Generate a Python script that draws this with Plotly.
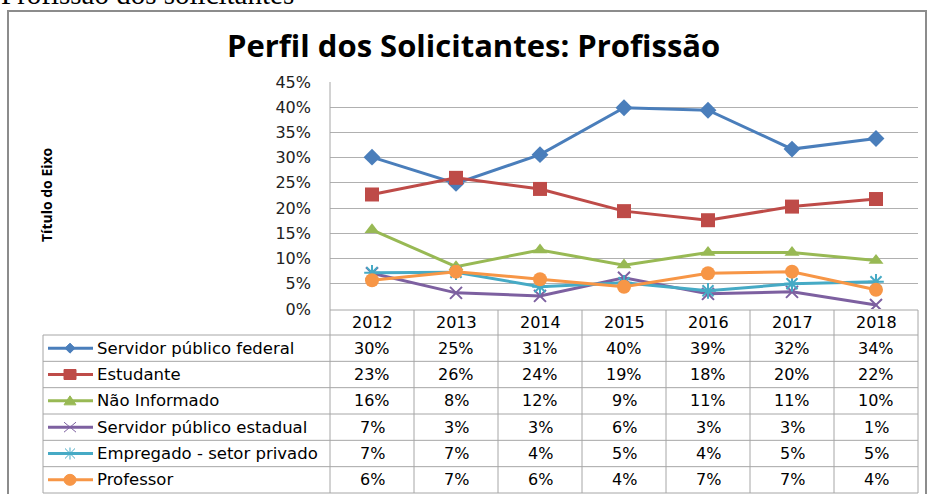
import plotly.graph_objects as go

years = ["2012", "2013", "2014", "2015", "2016", "2017", "2018"]
series_names = ["Servidor público federal", "Estudante", "Não Informado",
                "Servidor público estadual", "Empregado - setor privado", "Professor"]
federal = [0.301, 0.249, 0.306, 0.399, 0.394, 0.317, 0.338]
estudante = [0.227, 0.260, 0.238, 0.194, 0.176, 0.203, 0.218]
nao_informado = [0.157, 0.084, 0.117, 0.087, 0.112, 0.112, 0.096]
estadual = [0.071, 0.032, 0.026, 0.062, 0.030, 0.034, 0.008]
empregado = [0.072, 0.073, 0.044, 0.052, 0.036, 0.050, 0.054]
professor = [0.057, 0.074, 0.059, 0.044, 0.071, 0.074, 0.038]
y_ticks = [0, 0.05, 0.10, 0.15, 0.20, 0.25, 0.30, 0.35, 0.40, 0.45]

all_values = [federal, estudante, nao_informado, estadual, empregado, professor]
colors = ["#4A7EBB", "#BE4B48", "#98B954", "#7D60A0", "#46AAC5", "#F79646"]
symbols = ["diamond", "square", "triangle-up", "x-thin-open", "asterisk-open", "circle"]
sizes = [13, 14, 13, 12, 13, 14]

W, H = 929, 494
L, R, T, B = 330, 918, 82, 309


def px(x):
    return (x - L) / (R - L)


def py(y):
    return (B - y) / (B - T)


def path(points, close=True):
    s = " ".join(("M" if i == 0 else "L") + f" {px(x):.5f},{py(y):.5f}"
                 for i, (x, y) in enumerate(points))
    return s + (" Z" if close else "")


FONT = "Open Sans"
TFONT = "DejaVu Sans"
fig = go.Figure()

for name, vals, c, s, sz in zip(series_names, all_values, colors, symbols, sizes):
    mk = dict(symbol=s, size=sz, color=c)
    if s.endswith("open"):
        mk["line"] = dict(color=c, width=2)
    fig.add_trace(go.Scatter(x=years, y=vals, name=name, mode="lines+markers",
                             line=dict(color=c, width=3), marker=mk,
                             showlegend=False))

# table geometry
row_top = 335
row_h = (493 - 335) / 6
col_w = (R - L) / 7
grid_c = "#A6A6A6"
shapes = []
# outer chart border
shapes.append(dict(type="rect", xref="paper", yref="paper", x0=px(8), x1=px(926),
                   y0=py(505), y1=py(11), line=dict(color="#8C8C8C", width=2)))
# horizontal table lines
shapes.append(dict(type="line", xref="paper", yref="paper", x0=px(L), x1=px(R),
                   y0=py(310), y1=py(310), line=dict(color=grid_c, width=1)))
for k in range(7):
    yy = row_top + k * row_h
    shapes.append(dict(type="line", xref="paper", yref="paper", x0=px(43), x1=px(R),
                       y0=py(yy), y1=py(yy), line=dict(color=grid_c, width=1)))
# vertical table lines
shapes.append(dict(type="line", xref="paper", yref="paper", x0=px(43), x1=px(43),
                   y0=py(row_top), y1=py(493), line=dict(color=grid_c, width=1)))
shapes.append(dict(type="line", xref="paper", yref="paper", x0=px(L), x1=px(L),
                   y0=py(T), y1=py(493), line=dict(color=grid_c, width=1)))
for i in range(1, 8):
    xx = L + i * col_w
    shapes.append(dict(type="line", xref="paper", yref="paper", x0=px(xx), x1=px(xx),
                       y0=py(310), y1=py(493), line=dict(color=grid_c, width=1)))

# legend keys: line sample + marker
MX = 70
for k, (c, s) in enumerate(zip(colors, symbols)):
    yy = row_top + (k + 0.5) * row_h
    shapes.append(dict(type="line", xref="paper", yref="paper", x0=px(48), x1=px(93),
                       y0=py(yy), y1=py(yy), line=dict(color=c, width=3)))
    if s == "diamond":
        shapes.append(dict(type="path", xref="paper", yref="paper",
                           path=path([(MX - 5, yy), (MX, yy - 5), (MX + 5, yy), (MX, yy + 5)]),
                           fillcolor=c, line=dict(color=c, width=1)))
    elif s == "square":
        shapes.append(dict(type="rect", xref="paper", yref="paper",
                           x0=px(MX - 6), x1=px(MX + 6), y0=py(yy + 5), y1=py(yy - 5),
                           fillcolor=c, line=dict(color=c, width=1)))
    elif s == "triangle-up":
        shapes.append(dict(type="path", xref="paper", yref="paper",
                           path=path([(MX - 6, yy + 4), (MX, yy - 5), (MX + 6, yy + 4)]),
                           fillcolor=c, line=dict(color=c, width=1)))
    elif s == "x-thin-open":
        shapes.append(dict(type="path", xref="paper", yref="paper",
                           path=path([(MX - 6, yy - 5), (MX + 6, yy + 5)], close=False)
                           + " " + path([(MX - 6, yy + 5), (MX + 6, yy - 5)], close=False),
                           line=dict(color=c, width=1)))
    elif s == "asterisk-open":
        shapes.append(dict(type="path", xref="paper", yref="paper",
                           path=path([(MX - 5, yy - 5), (MX + 5, yy + 5)], close=False)
                           + " " + path([(MX - 5, yy + 5), (MX + 5, yy - 5)], close=False)
                           + " " + path([(MX, yy - 6), (MX, yy + 6)], close=False),
                           line=dict(color=c, width=1)))
    else:
        shapes.append(dict(type="circle", xref="paper", yref="paper",
                           x0=px(MX - 6), x1=px(MX + 6), y0=py(yy + 5.5), y1=py(yy - 5.5),
                           fillcolor=c, line=dict(color=c, width=1)))

annotations = []
annotations.append(dict(text="Profissão dos solicitantes", xref="paper", yref="paper",
                        x=px(-1), y=py(12), xanchor="left", yanchor="bottom",
                        showarrow=False, font=dict(family="Liberation Serif", size=29, color="#000")))
annotations.append(dict(text="<b>Perfil dos Solicitantes: Profissão</b>", xref="paper", yref="paper",
                        x=px(473), y=py(45), xanchor="center", yanchor="middle",
                        showarrow=False, font=dict(family=FONT, size=31, color="#000")))
annotations.append(dict(text="<b>Título do Eixo</b>", xref="paper", yref="paper",
                        x=px(46), y=py(195), xanchor="center", yanchor="middle", textangle=-90,
                        showarrow=False, font=dict(family=FONT, size=14, color="#000")))
for i, yr in enumerate(years):
    annotations.append(dict(text=yr, xref="paper", yref="paper",
                            x=px(L + (i + 0.5) * col_w), y=py(322.5), xanchor="center", yanchor="middle",
                            showarrow=False, font=dict(family=TFONT, size=16, color="#000")))
for k, (name, vals) in enumerate(zip(series_names, all_values)):
    yy = row_top + (k + 0.5) * row_h
    annotations.append(dict(text=name, xref="paper", yref="paper", x=px(95), y=py(yy),
                            xanchor="left", yanchor="middle", showarrow=False,
                            font=dict(family=TFONT, size=16.5, color="#000")))
    for i, v in enumerate(vals):
        annotations.append(dict(text=f"{round(v * 100)}%", xref="paper", yref="paper",
                                x=px(L + (i + 0.5) * col_w), y=py(yy), xanchor="center",
                                yanchor="middle", showarrow=False,
                                font=dict(family=TFONT, size=16, color="#000")))

fig.update_layout(
    width=W, height=H,
    margin=dict(l=L, r=W - R, t=T, b=H - B),
    paper_bgcolor="white", plot_bgcolor="white",
    showlegend=False,
    xaxis=dict(type="category", range=[-0.5, 6.5], showticklabels=False, showgrid=False,
               zeroline=False, showline=False, ticks=""),
    yaxis=dict(range=[0, 0.45], tickvals=y_ticks, tickformat=".0%", showgrid=True,
               gridcolor="#B0B0B0", gridwidth=1, zeroline=False, showline=False,
               ticks="", ticklabelstandoff=18,
               tickfont=dict(family=TFONT, size=16, color="#222")),
    shapes=shapes,
    annotations=annotations,
)

fig.write_html("out.html", config={"displayModeBar": False},
               post_script="document.body.style.margin='0px';")
